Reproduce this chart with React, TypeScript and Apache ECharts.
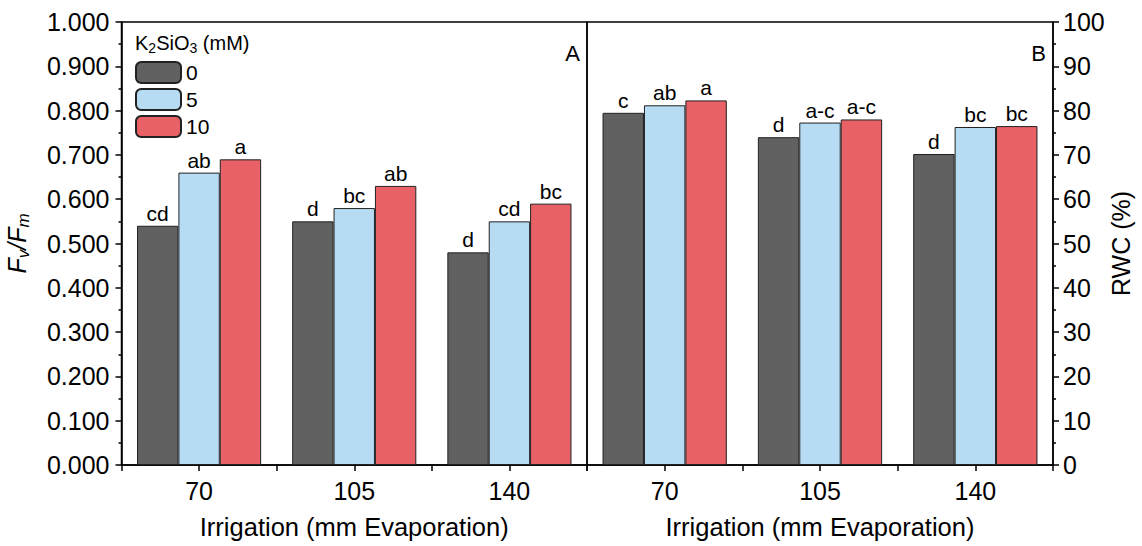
import React, { useEffect, useRef } from "react";
import * as echarts from "echarts";

const categories = ["70", "105", "140"];
const seriesNames = ["0", "5", "10"];
const colors = ["#616161", "#b6dbf3", "#e86166"];

const fvfm0 = [0.54, 0.55, 0.48];
const fvfm5 = [0.66, 0.58, 0.55];
const fvfm10 = [0.69, 0.63, 0.59];
const fvfmLetters0 = ["cd", "d", "d"];
const fvfmLetters5 = ["ab", "bc", "cd"];
const fvfmLetters10 = ["a", "ab", "bc"];

const rwc0 = [79.5, 74.0, 70.2];
const rwc5 = [81.2, 77.3, 76.3];
const rwc10 = [82.3, 78.0, 76.5];
const rwcLetters0 = ["c", "d", "d"];
const rwcLetters5 = ["ab", "a-c", "bc"];
const rwcLetters10 = ["a", "a-c", "bc"];

const FONT = "'Liberation Sans', Arial, sans-serif";

export default function App() {
  const ref = useRef<HTMLDivElement>(null);
  useEffect(() => {
    document.body.style.margin = "0";
    const chart = echarts.init(ref.current!, null, { renderer: "svg" });
    const gridL = { left: 121, top: 22, width: 466, height: 443 };
    const gridR = { left: 587, top: 22, width: 466, height: 443 };
    const axisLine = { show: true, lineStyle: { color: "#000", width: 1.5 } };
    const catAxis = (grid: number, main: boolean) => ({
      type: "category",
      gridIndex: grid,
      data: categories,
      position: "bottom",
      axisLine: main ? axisLine : { show: false },
      axisTick: main
        ? { show: true, inside: false, length: 6, lineStyle: { color: "#000", width: 1.5 } }
        : { show: true, alignWithLabel: true, inside: false, length: 6, lineStyle: { color: "#000", width: 1.5 } },
      axisLabel: main
        ? { show: true, color: "#000", fontSize: 25, fontFamily: FONT, margin: 13 }
        : { show: false },
      splitLine: { show: false },
      name: main ? "Irrigation (mm Evaporation)" : "",
      nameLocation: "middle",
      nameGap: 49,
      nameTextStyle: { color: "#000", fontSize: 25.5, fontFamily: FONT },
    });
    const labelStyle = { show: true, position: "top", distance: 2, color: "#000", fontSize: 21, fontFamily: FONT };
    const bar = (name: string, color: string, data: number[], letters: string[], xi: number, yi: number) => ({
      type: "bar",
      name,
      xAxisIndex: xi,
      yAxisIndex: yi,
      data,
      barGap: "0%",
      barCategoryGap: "20%",
      itemStyle: { color, borderColor: "#222", borderWidth: 1 },
      label: { ...labelStyle, formatter: (p: any) => letters[p.dataIndex] },
    });
    const subRich = {
      i: { fontStyle: "italic", fontSize: 25, lineHeight: 30, fontFamily: FONT, color: "#000" },
      s: { fontStyle: "italic", fontSize: 17, lineHeight: 17, padding: [14, 0, 0, 0], fontFamily: FONT, color: "#000" },
    };
    const option: any = {
      animation: false,
      backgroundColor: "#fff",
      grid: [
        { ...gridL, show: true, borderColor: "#000", borderWidth: 1.5, backgroundColor: "transparent" },
        { ...gridR, show: true, borderColor: "#000", borderWidth: 1.5, backgroundColor: "transparent" },
      ],
      xAxis: [catAxis(0, true), catAxis(0, false), catAxis(1, true), catAxis(1, false)],
      yAxis: [
        {
          type: "value",
          gridIndex: 0,
          position: "left",
          min: 0,
          max: 1,
          interval: 0.1,
          axisLine,
          axisTick: { show: true, length: 6, lineStyle: { color: "#000", width: 1.5 } },
          minorTick: { show: true, splitNumber: 2, length: 3, lineStyle: { color: "#000", width: 1.5 } },
          splitLine: { show: false },
          axisLabel: { color: "#000", fontSize: 25, fontFamily: FONT, margin: 12, formatter: (v: number) => v.toFixed(3) },
          name: "{i|F}{s|v}{i|/F}{s|m}",
          nameLocation: "middle",
          nameRotate: 90,
          nameGap: 90,
          nameTextStyle: { rich: subRich },
        },
        {
          type: "value",
          gridIndex: 1,
          position: "right",
          min: 0,
          max: 100,
          interval: 10,
          axisLine,
          axisTick: { show: true, length: 6, lineStyle: { color: "#000", width: 1.5 } },
          minorTick: { show: true, splitNumber: 2, length: 3, lineStyle: { color: "#000", width: 1.5 } },
          splitLine: { show: false },
          axisLabel: { color: "#000", fontSize: 25, fontFamily: FONT, margin: 10 },
          name: "RWC (%)",
          nameLocation: "middle",
          nameRotate: 90,
          nameGap: 46,
          nameTextStyle: { color: "#000", fontSize: 25, fontFamily: FONT },
        },
      ],
      legend: {
        data: seriesNames,
        orient: "vertical",
        left: 135,
        top: 61,
        padding: 0,
        itemWidth: 45,
        itemHeight: 21,
        itemGap: 4,
        textStyle: { color: "#000", fontSize: 21, fontFamily: FONT },
      },
      graphic: [
        {
          type: "text",
          left: 135,
          top: 30,
          style: {
            text: "{n|K}{s|2}{n|SiO}{s|3}{n| (mM)}",
            rich: {
              n: { fontSize: 20, lineHeight: 25, fontFamily: FONT, fill: "#000" },
              s: { fontSize: 14, lineHeight: 14, padding: [11, 0, 0, 0], fontFamily: FONT, fill: "#000" },
            },
          },
        },
        { type: "text", right: 1142 - 580, top: 42, style: { text: "A", fontSize: 22, fontFamily: FONT, fill: "#000" } },
        { type: "text", right: 1142 - 1046, top: 42, style: { text: "B", fontSize: 22, fontFamily: FONT, fill: "#000" } },
      ],
      series: [
        bar(seriesNames[0], colors[0], fvfm0, fvfmLetters0, 0, 0),
        bar(seriesNames[1], colors[1], fvfm5, fvfmLetters5, 0, 0),
        bar(seriesNames[2], colors[2], fvfm10, fvfmLetters10, 0, 0),
        bar(seriesNames[0], colors[0], rwc0, rwcLetters0, 2, 1),
        bar(seriesNames[1], colors[1], rwc5, rwcLetters5, 2, 1),
        bar(seriesNames[2], colors[2], rwc10, rwcLetters10, 2, 1),
      ],
    };
    chart.setOption(option);
    return () => chart.dispose();
  }, []);
  return <div ref={ref} style={{ position: "absolute", left: 0, top: 0, width: 1142, height: 546 }} />;
}
